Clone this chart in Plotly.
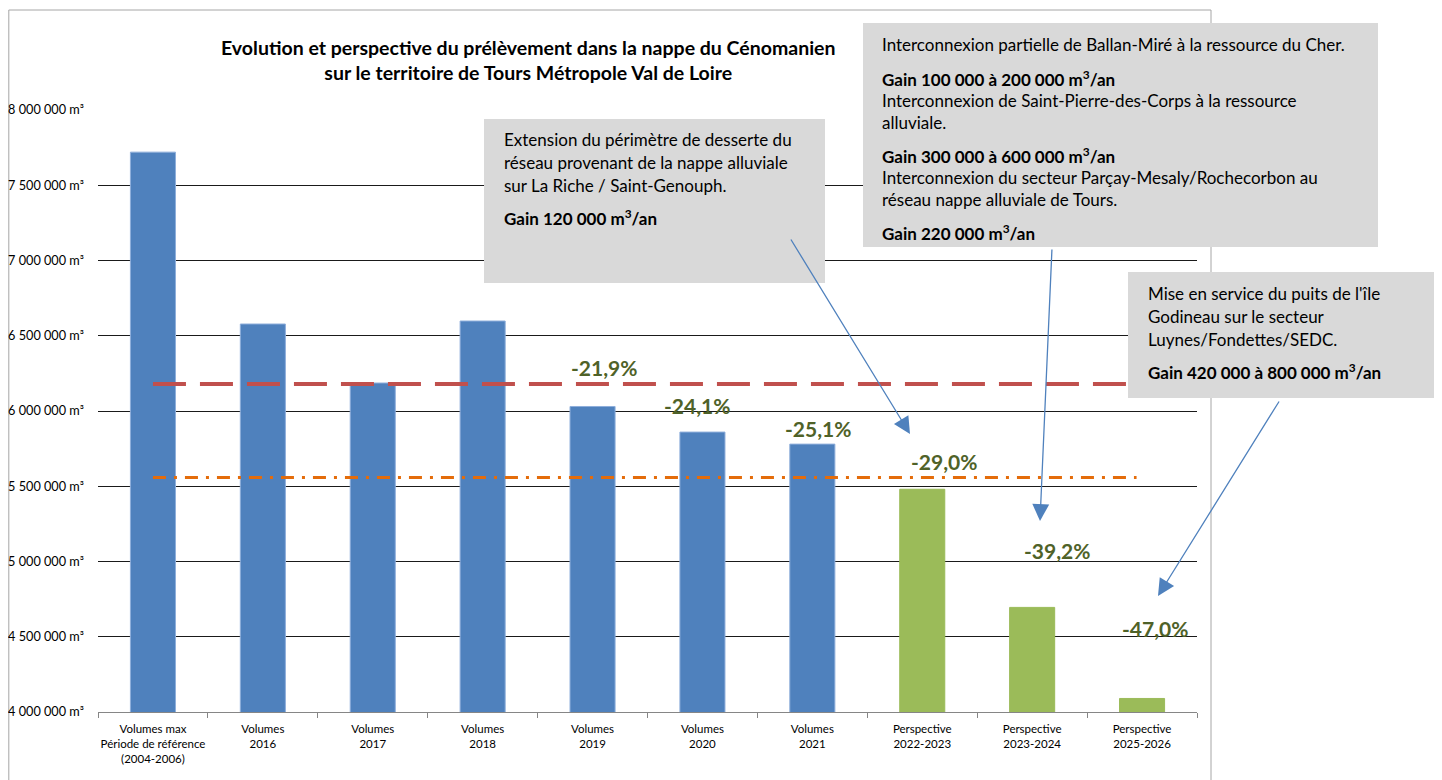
import plotly.graph_objects as go

# ---------------- data ----------------
categories = [
    "Volumes max<br>Période de référence<br>(2004-2006)",
    "Volumes<br>2016", "Volumes<br>2017", "Volumes<br>2018", "Volumes<br>2019",
    "Volumes<br>2020", "Volumes<br>2021",
    "Perspective<br>2022-2023", "Perspective<br>2023-2024", "Perspective<br>2025-2026",
]
volumes = [7720000, 6578000, 6186000, 6598000, 6030000, 5860000, 5780000, 5480000, 4695000, 4090000]
is_perspective = [False, False, False, False, False, False, False, True, True, True]
pct_labels = ["", "", "", "", "-21,9%", "-24,1%", "-25,1%", "-29,0%", "-39,2%", "-47,0%"]
threshold_red = 6180000
threshold_orange = 5558000
y_tickvals = [4000000, 4500000, 5000000, 5500000, 6000000, 6500000, 7000000, 7500000, 8000000]
y_ticktext = ["4 000 000 m³", "4 500 000 m³", "5 000 000 m³", "5 500 000 m³", "6 000 000 m³",
              "6 500 000 m³", "7 000 000 m³", "7 500 000 m³", "8 000 000 m³"]

box1_lines = [
    ("Extension du périmètre de desserte du", False),
    ("réseau provenant de la nappe alluviale", False),
    ("sur La Riche / Saint-Genouph.", False),
    ("Gain 120 000 m<sup>3</sup>/an", True),
]
box2_lines = [
    ("Interconnexion partielle de Ballan-Miré à la ressource du Cher.", False),
    ("Gain 100 000 à 200 000 m<sup>3</sup>/an", True),
    ("Interconnexion de Saint-Pierre-des-Corps à la ressource", False),
    ("alluviale.", False),
    ("Gain 300 000 à 600 000 m<sup>3</sup>/an", True),
    ("Interconnexion du secteur Parçay-Mesaly/Rochecorbon au", False),
    ("réseau nappe alluviale de Tours.", False),
    ("Gain 220 000 m<sup>3</sup>/an", True),
]
box3_lines = [
    ("Mise en service du puits de l'île", False),
    ("Godineau sur le secteur", False),
    ("Luynes/Fondettes/SEDC.", False),
    ("Gain 420 000 à 800 000 m<sup>3</sup>/an", True),
]

# ---------------- layout helpers (screen pixel -> paper) ----------------
OFF = 8  # page body margin
L, R, T, B = 98, 1197, 110, 712  # plot area on screen
W, H = 1442, 780


def px(x):
    return (x - L) / (R - L)


def py(y):
    return (B - y) / (B - T)


FONT = "Lato, Calibri, 'Open Sans', sans-serif"
BLUE = "#4F81BD"
GREEN = "#9BBB59"

fig = go.Figure()
fig.add_trace(go.Bar(
    x=categories, y=volumes,
    marker=dict(color=[GREEN if p else BLUE for p in is_perspective],
                line=dict(color=["#9BBB59" if p else "#8EAEDB" for p in is_perspective], width=1)),
    width=0.41, base=0, showlegend=False, hoverinfo="x+y",
))

shapes = []
annotations = []

# reference lines
shapes.append(dict(type="line", xref="x", yref="y", x0=0, x1=9.5, y0=threshold_red, y1=threshold_red,
                   line=dict(color="#C0504D", width=4, dash="33px,14px"), layer="above"))
shapes.append(dict(type="line", xref="x", yref="y", x0=0, x1=8.95, y0=threshold_orange, y1=threshold_orange,
                   line=dict(color="#E46C0A", width=3, dash="13px,8px,3px,8px"), layer="above"))

# outer chart border
shapes.append(dict(type="rect", xref="paper", yref="paper", x0=px(8.8), x1=px(1211), y0=py(800), y1=py(10),
                   line=dict(color="#A6A6A6", width=1), fillcolor="rgba(0,0,0,0)", layer="below"))

# gray text boxes
for (x0, y0, x1, y1) in [(484, 119, 825, 283), (863, 23, 1378, 247), (1128, 272, 1450, 398)]:
    shapes.append(dict(type="rect", xref="paper", yref="paper", x0=px(x0), x1=px(x1), y0=py(y1), y1=py(y0),
                       line=dict(width=0), fillcolor="#D9D9D9", layer="above"))


def add_lines(lines, x_left, ys):
    for (txt, bold), yy in zip(lines, ys):
        annotations.append(dict(
            xref="paper", yref="paper", x=px(x_left), y=py(yy), xanchor="left", yanchor="middle",
            text=f"<b>{txt}</b>" if bold else txt, showarrow=False,
            font=dict(family=FONT, size=17, color="#000000"),
        ))


add_lines(box1_lines, 502, [139, 162, 185, 218])
add_lines(box2_lines, 880, [45, 78, 100, 122, 155, 177, 199, 232])
add_lines(box3_lines, 1146, [293, 316, 339, 371])

# arrows (head, tail) in screen pixels
for (hx, hy, tx, ty) in [(910, 434, 790, 238), (1040, 521, 1052, 248), (1158, 596, 1280, 400)]:
    annotations.append(dict(
        xref="paper", yref="paper", x=px(hx), y=py(hy), ax=tx - hx, ay=ty - hy,
        text="", showarrow=True, arrowhead=2, arrowsize=2.6, arrowwidth=1.3, arrowcolor=BLUE,
    ))

# percentage labels
pct_pos = {4: (604, 367), 5: (697, 405), 6: (818, 428), 7: (944, 461), 8: (1057, 550), 9: (1155, 628)}
for i, lab in enumerate(pct_labels):
    if lab:
        x_, y_ = pct_pos[i]
        annotations.append(dict(
            xref="paper", yref="paper", x=px(x_), y=py(y_), xanchor="center", yanchor="middle",
            text=f"<b>{lab}</b>", showarrow=False,
            font=dict(family=FONT, size=21, color="#4F6228"),
        ))

# title
annotations.append(dict(
    xref="paper", yref="paper", x=px(528), y=py(60), xanchor="center", yanchor="middle",
    text="<b>Evolution et perspective du prélèvement dans la nappe du Cénomanien<br>"
         "sur le territoire de Tours Métropole Val de Loire</b>",
    showarrow=False, align="center", font=dict(family=FONT, size=19.5, color="#000000"),
))

fig.update_layout(
    width=W, height=H,
    margin=dict(l=L - OFF, r=W - (R - OFF), t=T - OFF, b=H - (B - OFF), pad=0, autoexpand=False),
    paper_bgcolor="white", plot_bgcolor="white",
    shapes=shapes, annotations=annotations,
    xaxis=dict(
        type="category", tickson="boundaries", ticks="outside", ticklen=5, tickcolor="#868686",
        showline=True, linecolor="#868686", linewidth=1, showgrid=False, tickangle=0, automargin=False,
        ticklabelstandoff=6,
        tickfont=dict(family=FONT, size=11.5, color="#000000"), range=[-0.5, 9.5], fixedrange=True,
    ),
    yaxis=dict(
        range=[4000000, 8000000], tickvals=y_tickvals, ticktext=y_ticktext, automargin=False,
        showgrid=True, gridcolor="#1a1a1a", gridwidth=0.8, zeroline=False, showline=False,
        ticks="", ticklabelstandoff=13,
        tickfont=dict(family=FONT, size=12.7, color="#000000"),
    ),
)

fig.write_html("out.html")
